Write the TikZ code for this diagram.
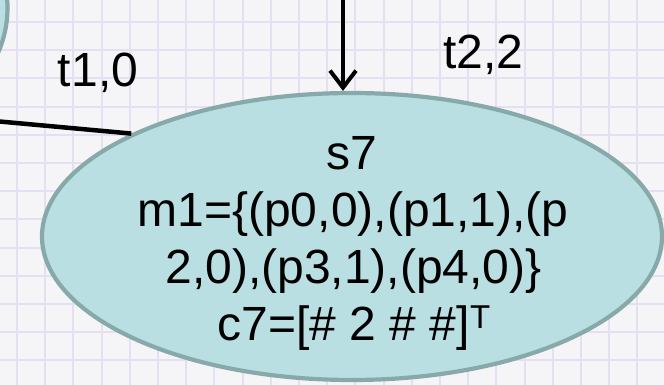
\documentclass[tikz,border=0pt]{standalone}
\usepackage{fontspec}
\setmainfont{Liberation Sans}
\usetikzlibrary{shapes.geometric,arrows.meta}
\definecolor{bgc}{HTML}{F5F5F7}
\definecolor{gridc}{HTML}{E4E0F1}
\definecolor{fillc}{HTML}{B9DFE2}
\definecolor{edgec}{HTML}{88A9A9}
\begin{document}
\begin{tikzpicture}[x=1pt,y=-1pt,
  state/.style={ellipse, draw=edgec, fill=fillc, line width=4.2pt, inner sep=0pt},
  txt/.style={inner sep=0pt, anchor=base, font=\fontsize{48}{57}\selectfont},
  conn/.style={line width=4.5pt, draw=black},
  tipv/.style={-{Straight Barb[length=17pt,width=26pt]}}]
\useasboundingbox (0,0) rectangle (664,385);
\fill[bgc] (0,0) rectangle (664,385);
\foreach \i in {0,...,23} \draw[gridc, line width=2pt] ({17+28.2*(\i-1)},0) -- ++(0,385);
\foreach \i in {0,...,14} \draw[gridc, line width=2pt] (0,{22+28.2*(\i-1)}) -- ++(664,0);
% nodes
\node[state, minimum width=300pt, minimum height=256pt] (s0) at (-142.5,8) {};
\node[state, minimum width=620pt, minimum height=287pt] (s7) at (352,236.5) {};
\node[txt] (l1) at (352,170) {s7};
\node[txt] (l2) at (353,226.7) {m1=\{(p0,0),(p1,1),(p};
\node[txt] (l3) at (353.5,283.3) {2,0),(p3,1),(p4,0)\}};
\node[txt] (l4) at (354,340) {c7=[\# 2 \# \#]\raisebox{12pt}{\fontsize{33}{33}\selectfont T}};
% connectors
\coordinate (e1) at (-20,119.7);
\coordinate (e2) at (343,-20);
\draw[conn] (e1) -- (s7.155.7);
\draw[conn,line width=4pt,tipv] (e2) -- (e2 |- s7.north);
% labels
\node[txt] (t10) at (98,87) {t1,0};
\node[txt] (t22) at (483.5,69) {t2,2};
\end{tikzpicture}
\end{document}
